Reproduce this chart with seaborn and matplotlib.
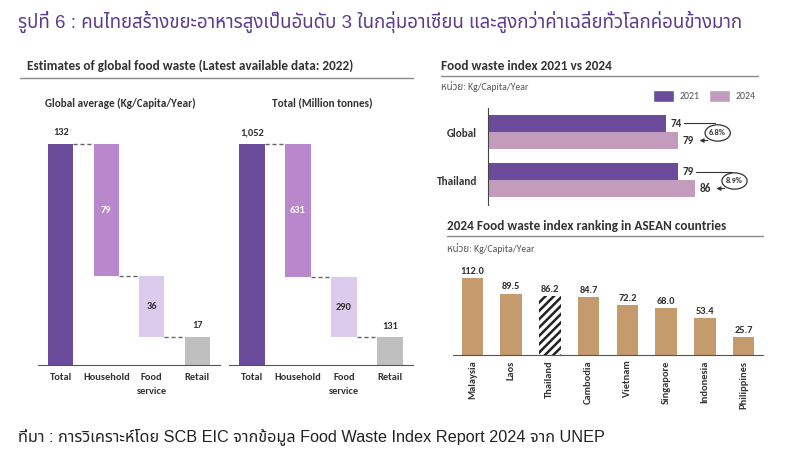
import matplotlib
matplotlib.use("Agg")
import pandas as pd
import seaborn as sns
import matplotlib.pyplot as plt
from matplotlib.patches import Ellipse
from matplotlib.lines import Line2D
from matplotlib.patches import Patch

# ---- data ----
stages = ["Total", "Household", "Food\nservice", "Retail"]
avg_values = [132, 79, 36, 17]          # Kg/Capita/Year
total_values = [1052, 631, 290, 131]    # Million tonnes

index_countries = ["Global", "Thailand"]
index_2021 = [74, 79]
index_2024 = [79, 86]

asean_countries = ["Malaysia", "Laos", "Thailand", "Cambodia", "Vietnam",
                   "Singapore", "Indonesia", "Philippines"]
asean_values = [112.0, 89.5, 86.2, 84.7, 72.2, 68.0, 53.4, 25.7]

title_th = "รูปที่ 6 : คนไทยสร้างขยะอาหารสูงเป็นอันดับ 3 ในกลุ่มอาเซียน และสูงกว่าค่าเฉลี่ยทั่วโลกค่อนข้างมาก"
source_th = "ที่มา : การวิเคราะห์โดย SCB EIC จากข้อมูล Food Waste Index Report 2024 จาก UNEP"
unit_th = "หน่วย: Kg/Capita/Year"

# ---- style ----
sns.set_style("white")
LATIN = ["Carlito", "Lato", "Noto Sans Thai", "DejaVu Sans"]
THAI = ["Liberation Sans Narrow", "Liberation Sans", "Noto Sans Thai", "DejaVu Sans"]
plt.rcParams["font.family"] = LATIN
plt.rcParams["hatch.linewidth"] = 1.8

purple = "#6b4c9a"
wf_colors = [purple, "#bb87cc", "#dccbec", "#bfbfbf"]
c2024 = "#c39bbd"
tan = "#c59a6d"
dark = "#333333"
grey_line = "#8a8a8a"

W, H = 800, 459
fig = plt.figure(figsize=(8, 4.59), dpi=100)


def px_ax(x0, y0, x1, y1):
    # axes from pixel box (top-left origin)
    return fig.add_axes([x0 / W, 1 - y1 / H, (x1 - x0) / W, (y1 - y0) / H])


def ftext(x, y, s, **kw):
    return fig.text(x / W, 1 - y / H, s, **kw)


def hline(x0, x1, y):
    fig.add_artist(Line2D([x0 / W, x1 / W], [1 - y / H, 1 - y / H],
                          color=grey_line, lw=1.0))


def fit_text(t, target_px):
    r = fig.canvas.get_renderer()
    for _ in range(3):
        w = t.get_window_extent(renderer=r).width
        t.set_fontsize(t.get_fontsize() * target_px / w)


# ---- headers ----
t = ftext(18, 22, title_th, color="#5b3d8e", fontsize=13, va="center",
          family=THAI)
fit_text(t, 727)
t = ftext(18, 437, source_th, color="#222222", fontsize=10, va="center",
          family=THAI)
fit_text(t, 587)

ftext(27, 66, "Estimates of global food waste (Latest available data: 2022)",
      fontsize=9.5, color=dark, va="center", fontweight="semibold")
hline(20, 413, 78)
ftext(45, 103, "Global average (Kg/Capita/Year)", fontsize=8, color=dark,
      va="center", fontweight="semibold")
ftext(272, 103, "Total (Million tonnes)", fontsize=8, color=dark,
      va="center", fontweight="semibold")

ftext(441, 66, "Food waste index 2021 vs 2024", fontsize=9.5, color=dark,
      va="center", fontweight="semibold")
hline(441, 758, 76)
ftext(441, 86, unit_th, fontsize=7, color="#555555", va="center")

ftext(447, 226, "2024 Food waste index ranking in ASEAN countries",
      fontsize=9.5, color=dark, va="center", fontweight="semibold")
hline(447, 763, 236)
ftext(447, 248, unit_th, fontsize=7, color="#555555", va="center")


# ---- waterfalls ----
def waterfall(ax, values):
    total = values[0]
    tops, bottoms = [total], [0]
    level = total
    for v in values[1:-1]:
        tops.append(level)
        level -= v
        bottoms.append(level)
    tops.append(values[-1])
    bottoms.append(0)
    df = pd.DataFrame({"stage": stages, "top": tops, "bottom": bottoms})
    sns.barplot(data=df, x="stage", y="top", hue="stage", palette=wf_colors,
                width=0.55, saturation=1, legend=False, ax=ax, linewidth=0)
    sns.barplot(data=df, x="stage", y="bottom", color="white", width=0.56,
                saturation=1, ax=ax, linewidth=0)
    for i in range(len(stages) - 1):
        ax.plot([i + 0.275, i + 1 - 0.275], [tops[i + 1], tops[i + 1]],
                ls=(0, (3, 2)), color="#666666", lw=1)
    for i, v in enumerate(values):
        lab = f"{v:,}"
        if i in (0, len(values) - 1):
            ax.text(i, tops[i] + total * 0.03, lab, ha="center", va="bottom",
                    fontsize=7.5, fontweight="bold", color=dark)
        else:
            col = "white" if i == 1 else dark
            ax.text(i, (tops[i] + bottoms[i]) / 2, lab, ha="center",
                    va="center", fontsize=7.5, fontweight="bold", color=col)
    ax.set_xlim(-0.5, 3.5)
    ax.set_ylim(0, total * 245 / 221)
    ax.set_xlabel("")
    ax.set_ylabel("")
    ax.set_yticks([])
    for s in ["top", "right", "left"]:
        ax.spines[s].set_visible(False)
    ax.spines["bottom"].set_color("#555555")
    ax.tick_params(axis="x", length=0, pad=6, labelsize=7.5, labelcolor=dark)
    for lbl in ax.get_xticklabels():
        lbl.set_fontweight("semibold")
        lbl.set_linespacing(1.6)
        lbl.set_va("top")


ax1 = px_ax(38, 120, 220, 365)
waterfall(ax1, avg_values)
ax2 = px_ax(229, 120, 413, 365)
waterfall(ax2, total_values)

# ---- 2021 vs 2024 ----
ax3 = px_ax(488, 108, 758, 205)
idx = pd.DataFrame({
    "country": index_countries * 2,
    "year": ["2021"] * 2 + ["2024"] * 2,
    "value": index_2021 + index_2024,
})
sns.barplot(data=idx, y="country", x="value", hue="year", orient="h",
            palette=[purple, c2024], width=0.71, saturation=1, legend=False,
            ax=ax3, linewidth=0)
ax3.set_xlim(0, 270 / 2.405)
ax3.set_ylim(1.52, -0.5)
ax3.set_xlabel("")
ax3.set_ylabel("")
ax3.set_xticks([])
for s in ["top", "right", "bottom"]:
    ax3.spines[s].set_visible(False)
ax3.spines["left"].set_color("#444444")
ax3.tick_params(axis="y", length=0, pad=8, labelsize=8, labelcolor=dark)
for lbl in ax3.get_yticklabels():
    lbl.set_fontweight("bold")

bars21 = ax3.containers[0]
bars24 = ax3.containers[1]
for i in range(len(index_countries)):
    p21, p24 = bars21[i], bars24[i]
    y21 = p21.get_y() + p21.get_height() / 2
    y24 = p24.get_y() + p24.get_height() / 2
    v21, v24 = index_2021[i], index_2024[i]
    ax3.text(v21 + 2, y21, str(v21), va="center", ha="left", fontsize=8,
             fontweight="bold", color=dark)
    ax3.text(v24 + 2, y24, str(v24), va="center", ha="left", fontsize=8,
             fontweight="bold", color=dark)
    pct = (v24 - v21) / v21 * 100
    cx = v24 + 16.5
    cy = (y21 + y24) / 2 + 0.02
    ax3.plot([v21 + 7.5, cx - 1], [y21, y21], color="#333333", lw=0.8)
    ax3.add_patch(Ellipse((cx, cy), 10.5, 0.34, fill=False, ec="#333333",
                          lw=0.9))
    ax3.text(cx, cy, f"{pct:.1f}%", ha="center", va="center", fontsize=6,
             fontweight="bold", color=dark)
    ax3.annotate("", xy=(v24 + 7.8, y24), xytext=(cx - 3.0, cy + 0.15),
                 arrowprops=dict(arrowstyle="-|>", color="#333333", lw=0.8,
                                 mutation_scale=6,
                                 connectionstyle="angle,angleA=-90,angleB=0,rad=3"))

handles = [Patch(facecolor=purple, label="2021"),
           Patch(facecolor=c2024, label="2024")]
fig.legend(handles=handles, loc="center right",
           bbox_to_anchor=(764 / W, 1 - 96 / H), ncol=2, frameon=False,
           fontsize=7, handlelength=2.2, handleheight=1.5,
           columnspacing=1.0, handletextpad=0.5, labelcolor="#555555")

# ---- ASEAN ranking ----
ax4 = px_ax(453, 265, 763, 355)
asean = pd.DataFrame({"country": asean_countries, "value": asean_values})
sns.barplot(data=asean, x="country", y="value", color=tan, width=0.55,
            saturation=1, ax=ax4, linewidth=0)
for patch, name in zip(ax4.patches, asean_countries):
    if name == "Thailand":
        patch.set_facecolor("white")
        patch.set_edgecolor("#222222")
        patch.set_hatch("////")
        patch.set_linewidth(0)
for i, v in enumerate(asean_values):
    ax4.text(i, v + 3, f"{v:.1f}", ha="center", va="bottom", fontsize=7.5,
             fontweight="bold", color=dark)
ax4.set_xlim(-0.5, 7.5)
ax4.set_ylim(0, 131)
ax4.set_xlabel("")
ax4.set_ylabel("")
ax4.set_yticks([])
for s in ["top", "right", "left"]:
    ax4.spines[s].set_visible(False)
ax4.spines["bottom"].set_color("#555555")
ax4.tick_params(axis="x", length=0, pad=4, labelsize=7.5, labelcolor=dark,
                labelrotation=90)
for lbl in ax4.get_xticklabels():
    lbl.set_fontweight("semibold")

fig.savefig("out.png", dpi=100)
